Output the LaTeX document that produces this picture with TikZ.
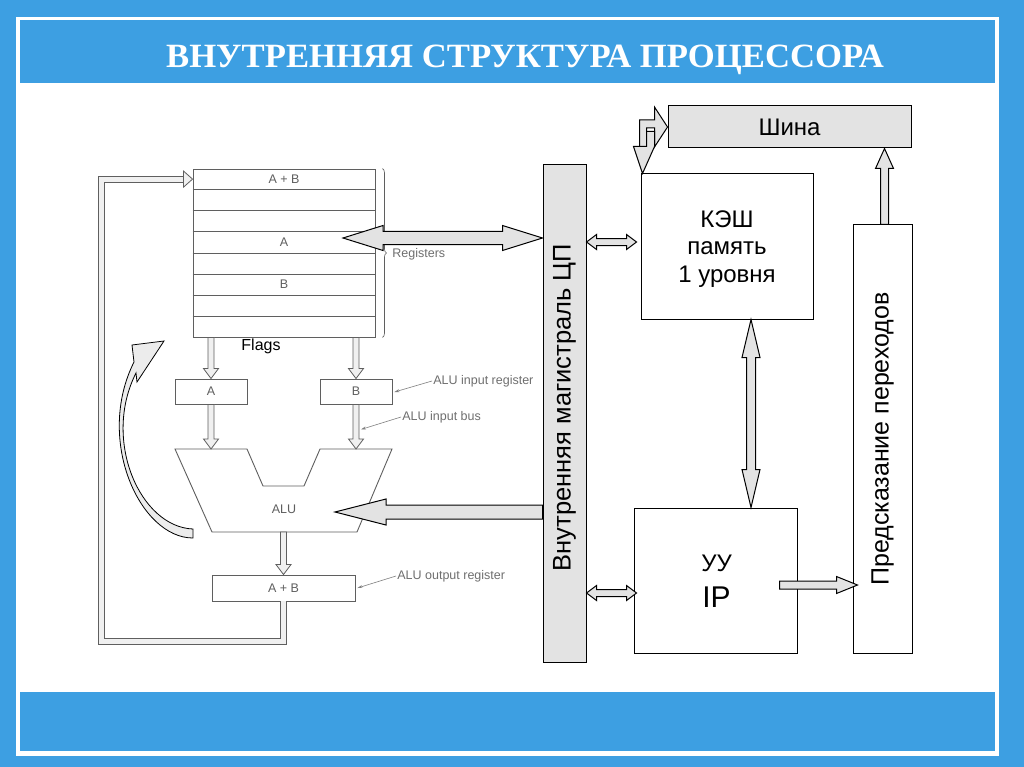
\documentclass[tikz,border=0pt]{standalone}
\usepackage{fontspec}
\usepackage{graphicx}
\setmainfont{Liberation Sans}
\newfontfamily\titlefont{Liberation Serif}
\usetikzlibrary{calc,arrows.meta,decorations.pathreplacing}

\definecolor{slideblue}{RGB}{61,159,226}
\definecolor{boxgray}{RGB}{227,227,227}
\definecolor{scangray}{RGB}{95,95,95}

\newcommand{\fs}[1]{\fontsize{#1}{1.2\dimexpr#1pt\relax}\selectfont}

% fat arrow with one head: style, tail, tip, half shaft, half head, head length
\newcommand{\fatsingle}[6]{%
  \coordinate (hb) at ($(#3)!#6!(#2)$);
  \draw[#1] ($(#2)!#4!90:(#3)$) -- ($(hb)!#4!90:(#3)$) -- ($(hb)!#5!90:(#3)$) -- (#3)
    -- ($(hb)!#5!-90:(#3)$) -- ($(hb)!#4!-90:(#3)$) -- ($(#2)!#4!-90:(#3)$) -- cycle;}
% fat arrow with two heads: style, tip, tip, half shaft, half head, head length
\newcommand{\fatdouble}[6]{%
  \coordinate (ha) at ($(#2)!#6!(#3)$);
  \coordinate (hb) at ($(#3)!#6!(#2)$);
  \draw[#1] (#2) -- ($(ha)!#5!90:(#3)$) -- ($(ha)!#4!90:(#3)$) -- ($(hb)!#4!90:(#3)$)
    -- ($(hb)!#5!90:(#3)$) -- (#3) -- ($(hb)!#5!-90:(#3)$) -- ($(hb)!#4!-90:(#3)$)
    -- ($(ha)!#4!-90:(#3)$) -- ($(ha)!#5!-90:(#3)$) -- cycle;}

\tikzset{every picture/.style={line width=0.75pt}}
\tikzset{
  blockbox/.style={draw=black, line width=1pt, fill=white, inner sep=0pt},
  graybox/.style={blockbox, fill=boxgray},
  scanbox/.style={draw=scangray, line width=0.9pt, fill=white, inner sep=0pt},
  scanline/.style={draw=scangray, line width=0.9pt},
  fatarr/.style={draw=black, line width=1pt, fill=boxgray, line join=miter},
  thinarr/.style={draw=scangray, line width=0.8pt, fill=gray!12},
  pipe/.style={draw=scangray, line width=0.9pt, double=gray!12, double distance=5pt},
  leader/.style={draw=scangray!80, line width=0.6pt, -{Stealth[length=5pt,width=3pt]}},
  scantext/.style={text=scangray!90, font=\fs{12.5}, inner sep=1pt},
  regtext/.style={text=scangray, font=\fs{12.5}, inner sep=1pt},
  bigtext/.style={font=\fs{24}, inner sep=0pt},
  titletext/.style={text=white, font=\titlefont\bfseries\fs{34}, inner sep=0pt}
}

\begin{document}
\begin{tikzpicture}[x=1pt,y=1pt,yscale=-1]
\useasboundingbox (0,0) rectangle (1024,767);

% slide frame
\fill[slideblue] (0,0) rectangle (1024,767);
\fill[white] (16,17) rectangle (999,756);
\fill[slideblue] (20,20) rectangle (995,83);
\fill[slideblue] (20,692) rectangle (995,751);
\node[titletext, anchor=base] (title) at (525,68) {\scalebox{1.02}[1]{ВНУТРЕННЯЯ СТРУКТУРА ПРОЦЕССОРА}};

%% left part: register file and ALU
\node[scanbox, minimum width=182, minimum height=168] (regs) at (284,253) {};
\foreach \i in {1,...,7}
  \draw[scanline] ($(regs.north west)!{\i/8}!(regs.south west)$) -- ($(regs.north east)!{\i/8}!(regs.south east)$);
\node[regtext] (rowsum) at ($(regs.north)!{1/16}!(regs.south)$) {A + B};
\node[regtext] (rowa) at ($(regs.north)!{7/16}!(regs.south)$) {A};
\node[regtext] (rowb) at ($(regs.north)!{11/16}!(regs.south)$) {B};
\draw[scanline, line width=0.6pt, decorate, decoration={brace, amplitude=4pt}] ($(regs.north east)+(7,0)$) -- ($(regs.south east)+(7,0)$);
\node[scantext, anchor=west] (reglabel) at (391,254) {Registers};
\node[font=\fs{16}, inner sep=0pt] (flags) at (261,346) {Flags};

% ALU input registers
\node[scanbox, minimum width=72, minimum height=25] (rega) at (211,391.5) {};
\node[scanbox, minimum width=72, minimum height=25] (regb) at (356,391.5) {};
\node[regtext] (rega text) at (rega) {A};
\node[regtext] (regb text) at (regb) {B};

% ALU
\coordinate (alutl) at (175,449);
\draw[scanline, fill=white] (alutl) -- (247,449) -- (263,486) -- (304,486) -- (320,449) -- (392,449) -- (357,532) -- (212,532) -- cycle;
\node[regtext] (alu) at (284,509) {ALU};
\node[scanbox, minimum width=143, minimum height=26] (aluout) at (283.5,588) {};
\node[regtext] (aluout text) at (aluout) {A + B};

\coordinate (rega in) at (regs.south -| rega);
\coordinate (regb in) at (regs.south -| regb);
\coordinate (alu ina) at (rega.south |- alutl);
\coordinate (alu inb) at (regb.south |- alutl);
\coordinate (alu bot) at (aluout.north |- 0,532);
\fatsingle{thinarr}{rega in}{rega.north}{3pt}{7.5pt}{10pt}
\fatsingle{thinarr}{regb in}{regb.north}{3pt}{7.5pt}{10pt}
\fatsingle{thinarr}{rega.south}{alu ina}{3pt}{7.5pt}{10pt}
\fatsingle{thinarr}{regb.south}{alu inb}{3pt}{7.5pt}{10pt}
\fatsingle{thinarr}{alu bot}{aluout.north}{3pt}{7.5pt}{10pt}

% feedback from the output register
\coordinate (regin) at ($(regs.north west)!{1/16}!(regs.south west)$);
\coordinate (pipeend) at ($(regin)+(-9,0)$);
\draw[pipe] (aluout.south) -- ++(0,40) -| ($(regin)+(-91,0)$) -- (pipeend);
\draw[thinarr] ($(pipeend)+(0,-8)$) -- (regin) -- ($(pipeend)+(0,8)$) -- cycle;

% flags arrow
\draw[draw=black, line width=0.8pt, fill=gray!15] (132,345) -- (164,341) -- (137,382) -- (136,373)
  .. controls (102,440) and (140,527) .. (193,529) -- (193,538)
  .. controls (140,538) and (95,440) .. (134,362) -- cycle;

% labels
\node[scantext, anchor=west] (lbl inreg) at (432,381) {ALU input register};
\node[scantext, anchor=west] (lbl inbus) at (401,417) {ALU input bus};
\node[scantext, anchor=west] (lbl outreg) at (396,576) {ALU output register};
\draw[leader] (lbl inreg.west) -- ($(regb.east)+(2,0.5)$);
\draw[leader] (lbl inbus.west) -- ($(regb.south)+(5,25)$);
\draw[leader] (lbl outreg.west) -- ($(aluout.east)+(2,0)$);

%% right part
\node[graybox, minimum width=43, minimum height=497] (bus) at (564.5,413.5) {};
\node[bigtext, font=\fs{25.5}, rotate=90] (bus text) at ($(bus)+(0,-6)$) {Внутренняя магистраль ЦП};
\node[graybox, minimum width=243, minimum height=42] (shina) at (789.5,127) {};
\node[bigtext] (shina text) at (shina) {Шина};
\node[blockbox, minimum width=172, minimum height=145, align=center, font=\fs{24}, text depth=0pt] (cache) at (727,246.5) {КЭШ\\[-1pt]память\\[-1pt]1 уровня};
\node[blockbox, minimum width=163, minimum height=145] (cu) at (715.5,580.5) {};
\node[bigtext] (cu name) at ($(cu.center)+(1,-17)$) {УУ};
\node[bigtext, font=\fs{30}] (cu ip) at ($(cu.center)+(1,17)$) {IP};
\node[blockbox, minimum width=59, minimum height=428] (bp) at (882.5,439) {};
\node[bigtext, font=\fs{25}, rotate=90] (bp text) at (bp) {Предсказание переходов};

% connectors
\coordinate (regport) at (343,238);
\coordinate (bus reg) at (bus.west |- regport);
\fatdouble{fatarr}{regport}{bus reg}{6.5pt}{12.5pt}{40pt}
\coordinate (aluport) at (335,512);
\coordinate (bus alu) at (bus.west |- aluport);
\fatsingle{fatarr}{bus alu}{aluport}{7pt}{13pt}{51pt}
\coordinate (cacheport) at ($(cache.west)+(-4,-4.5)$);
\coordinate (bus cache) at (bus.east |- cacheport);
\fatdouble{fatarr}{bus cache}{cacheport}{3.5pt}{7.5pt}{10pt}
\coordinate (cuport) at ($(cu.west)+(3,12.5)$);
\coordinate (bus cu) at (bus.east |- cuport);
\fatdouble{fatarr}{bus cu}{cuport}{3.5pt}{7.5pt}{10pt}
\coordinate (cache bot) at ($(cache.south)+(24,0)$);
\coordinate (cu top) at (cache bot |- cu.north);
\fatdouble{fatarr}{cache bot}{cu top}{4.5pt}{9pt}{38pt}
\coordinate (cu out) at ($(cu.east)+(-18,4.5)$);
\coordinate (bp in) at ($(bp.west |- cu out)+(5,0)$);
\fatsingle{fatarr}{cu out}{bp in}{4pt}{8.5pt}{21pt}
\coordinate (bp out) at ($(bp.north)+(2,0)$);
\coordinate (shina in) at (bp out |- shina.south);
\fatsingle{fatarr}{bp out}{shina in}{4pt}{9pt}{20pt}

% cache <-> bus (upper left)
\coordinate (stip) at (shina.west);
\coordinate (ctip) at ($(cache.north west)+(2,0)$);
\draw[fatarr] ($(stip)+(-28,33)$) -- ++(0,-40) -- ++(15,0) -- ++(0,-13) -- (stip) -- ($(stip)+(-13,20)$) -- ++(0,-19) -- ++(-8,0) -- ++(0,32) -- cycle;
\draw[fatarr] ($(ctip)+(4,-42)$) -- ++(8,0) -- ++(0,15) -- (ctip) -- ($(ctip)+(-9,-27)$) -- ++(13,0) -- cycle;
\end{tikzpicture}
\end{document}
